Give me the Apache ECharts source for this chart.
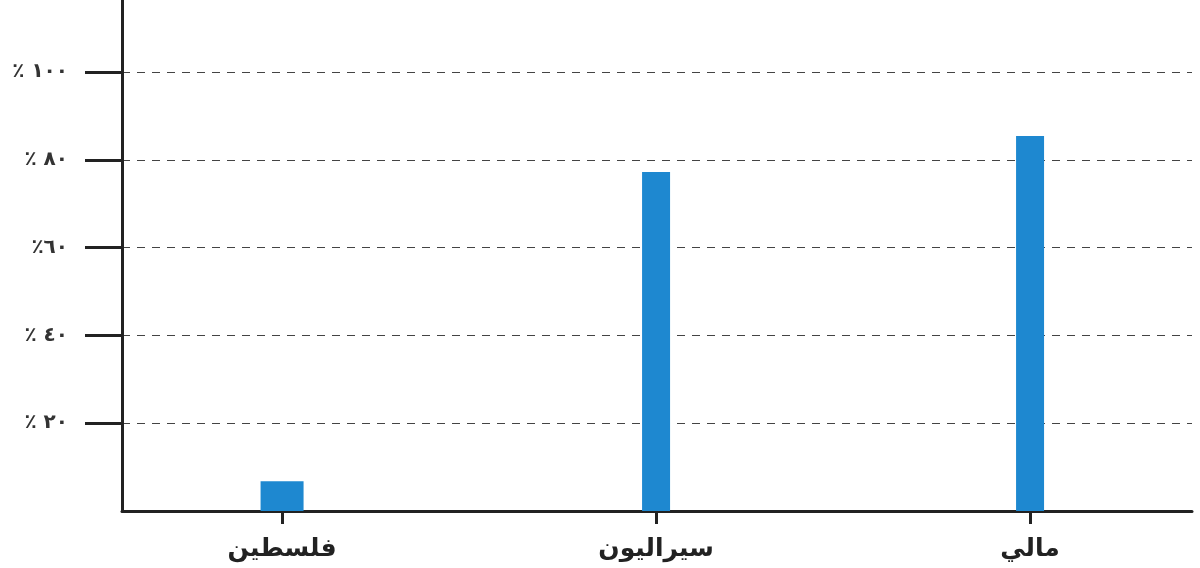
<!DOCTYPE html>
<html>
<head>
<meta charset="utf-8">
<script src="https://cdn.jsdelivr.net/npm/echarts@6/dist/echarts.min.js"></script>
<style>
  html, body { margin: 0; padding: 0; background: #ffffff; }
  #chart { width: 1200px; height: 568px; }
</style>
</head>
<body>
<div id="chart"></div>
<script>
const categories = ['فلسطين', 'سيراليون', 'مالي'];
const values = [6.8, 77.2, 85.4];
const yTicks = [20, 40, 60, 80, 100];
const yTickLabels = ['٪ ٢٠', '٪ ٤٠', '٪٦٠', '٪ ٨٠', '٪ ١٠٠'];

const chart = echarts.init(document.getElementById('chart'), null, { renderer: 'canvas' });

// x is a value axis so the three columns can sit at the same spacing as the original
const xBase = {
  type: 'value',
  min: -0.428,
  max: 2.433
};

const option = {
  backgroundColor: '#ffffff',
  animation: false,
  grid: { left: 122, right: 8, top: 0, bottom: 57 },
  xAxis: [
    Object.assign({}, xBase, {
      axisLine: { show: true, onZero: false, lineStyle: { color: '#222', width: 3 } },
      axisTick: { show: true, customValues: [0, 1, 2], length: 13, lineStyle: { color: '#222', width: 3 } },
      axisLabel: {
        customValues: [0, 1, 2],
        margin: 26,
        color: '#222',
        fontFamily: 'DejaVu Sans',
        fontWeight: 'bold',
        fontSize: 25,
        formatter: (v) => categories[Math.round(v)] || ''
      },
      splitLine: { show: false }
    }),
    // hidden twin axis for the wider first bar
    Object.assign({}, xBase, { show: false })
  ],
  yAxis: {
    type: 'value',
    min: 0,
    max: 116.4,
    axisLine: { show: true, onZero: false, lineStyle: { color: '#222', width: 3 } },
    axisTick: { show: true, customValues: yTicks, length: 37, lineStyle: { color: '#222', width: 3 } },
    axisLabel: {
      customValues: yTicks,
      margin: 54,
      color: '#333',
      fontFamily: 'DejaVu Sans',
      fontWeight: 'bold',
      fontSize: 20,
      formatter: (v) => yTickLabels[yTicks.indexOf(Math.round(v))] || ''
    },
    splitLine: {
      show: true,
      showMinLine: true,
      showMaxLine: true,
      lineStyle: { color: '#444', width: 1, type: [8, 7] }
    }
  },
  series: [
    {
      type: 'bar',
      xAxisIndex: 1,
      barWidth: 43,
      itemStyle: { color: '#1E88D0' },
      data: [[0, values[0]]]
    },
    {
      type: 'bar',
      xAxisIndex: 0,
      barWidth: 28,
      itemStyle: { color: '#1E88D0' },
      data: [[1, values[1]], [2, values[2]]]
    }
  ]
};

chart.setOption(option);
</script>
</body>
</html>
